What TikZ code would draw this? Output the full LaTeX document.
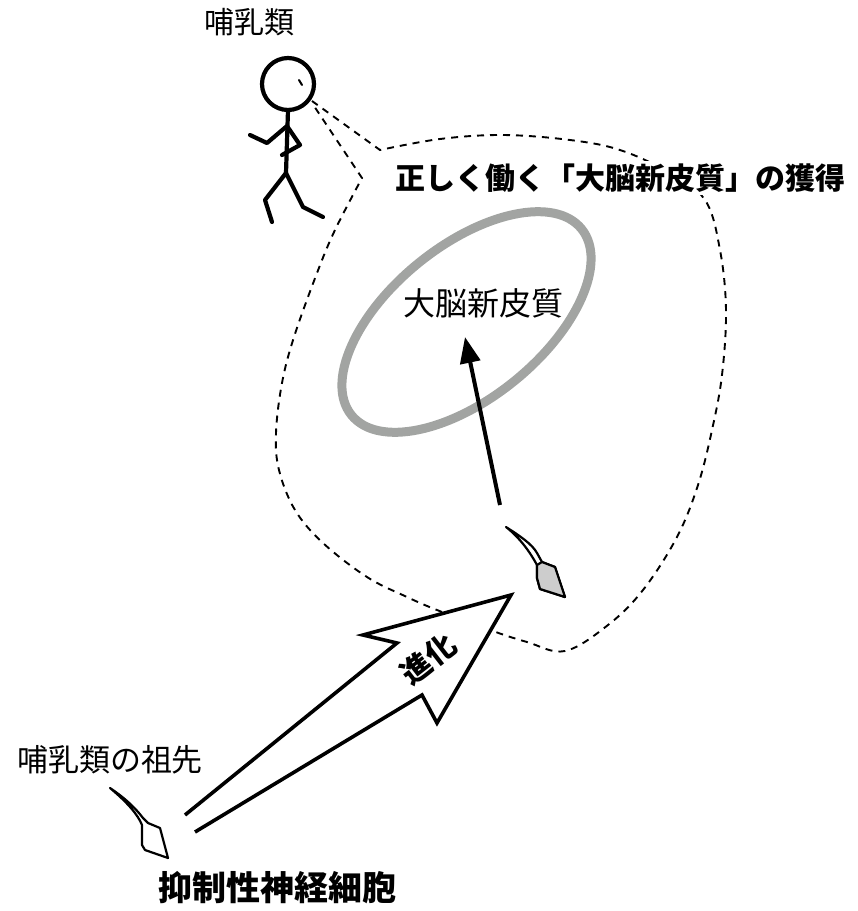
\documentclass[tikz,border=0pt]{standalone}
\usepackage{fontspec}
\newfontfamily\jp{Noto Sans CJK JP}
\usetikzlibrary{arrows.meta}

\tikzset{
  label/.style={inner sep=0pt, font=\jp\fontsize{#1}{#1}\selectfont},
  boldlabel/.style={inner sep=0pt, font=\jp\bfseries\fontsize{#1}{#1}\selectfont},
  figure/.style={line width=4.2pt, line cap=round, line join=round},
  region/.style={line width=1.9pt, dash pattern=on 7pt off 6pt},
  cortex/.style={line width=9pt, draw=cortexgray},
  cell/.style={line width=2.2pt, line join=round},
  bigarrow/.style={line width=3.6pt, line join=miter, fill=white},
}
\definecolor{cortexgray}{RGB}{162,164,162}
\definecolor{somagray}{RGB}{205,205,205}

\begin{document}
\begin{tikzpicture}[x=1pt, y=-1pt]
\useasboundingbox (0,0) rectangle (858,911);

% region of the properly working neocortex (dashed outline from the head)
\draw[region] (312,101) -- plot[smooth, tension=0.6] coordinates {
  (380,150) (440,139) (503,135) (570,140) (620,150) (668,172) (705,200)
  (720,250) (726,310) (722,375) (712,430) (698,485) (677,537) (643,590)
  (608,625) (565,651) (527,642) (490,630) (437,610) (407,597) (367,577)
  (323,543) (295,510) (279,470) (276,433) (282,383) (294,337) (317,273)
  (335,230) (362,178)} -- (312,103);

% stick figure (mammal)
\node[label=30pt] (mammal) at (249,22) {哺乳類};
\draw[figure] (288,84) circle (26);
\draw[line width=2pt, line cap=round] (299,80) -- (302,85);
\draw[figure] (288,110) -- (286,173);
\draw[figure] (250,135) -- (267,143) -- (287,126) -- (300,145) -- (282,155);
\draw[figure] (272,222) -- (265,200) -- (286,173) -- (303,207) -- (323,217);

% title
\node[boldlabel=30pt, fill=white, inner sep=3pt] (title) at (620,178)
  {正しく働く「大脳新皮質」の獲得};

% neocortex
\begin{scope}[shift={(466.5,322)}, rotate=39]
  \draw[cortex] (0,0) ellipse [x radius=148, y radius=76];
\end{scope}
\node[label=32pt] (neocortex) at (483,303) {大脳新皮質};

% neuron inside the mammal
\coordinate (axonTop) at (500,505);
\coordinate (cortexIn) at (465,337);
\draw[line width=4pt, -{Triangle[length=26pt, width=20pt]}] (axonTop) -- (cortexIn);
\draw[cell, fill=white] (506,527) .. controls (520,536) and (532,544) .. (537,553)
  -- (542,562) -- (555,567) -- (565,597) -- (540,589) -- (537,578)
  -- (537,565) .. controls (530,552) and (520,538) .. (506,527) -- cycle;
\draw[cell, fill=somagray] (542,562) -- (555,567) -- (565,597) -- (540,589)
  -- (537,578) -- (537,565) -- cycle;

% evolution arrow
\draw[bigarrow] (185,815) -- (397,643) -- (363,635) -- (511,595)
  -- (437,723) -- (422,695) -- (195,832);
\node[boldlabel=30pt, rotate=38] (evolution) at (428,659) {進化};

% ancestor neuron
\node[label=31pt] (ancestor) at (110,760) {哺乳類の祖先};
\draw[cell, fill=white] (110,788) .. controls (122,796) and (134,806) .. (143,818)
  -- (148,823) -- (160,828) -- (168,858) -- (145,850) -- (142,845)
  -- (142,825) .. controls (138,815) and (128,803) .. (110,788) -- cycle;
\node[boldlabel=34pt] (inhibitory) at (277,888) {抑制性神経細胞};
\end{tikzpicture}
\end{document}
